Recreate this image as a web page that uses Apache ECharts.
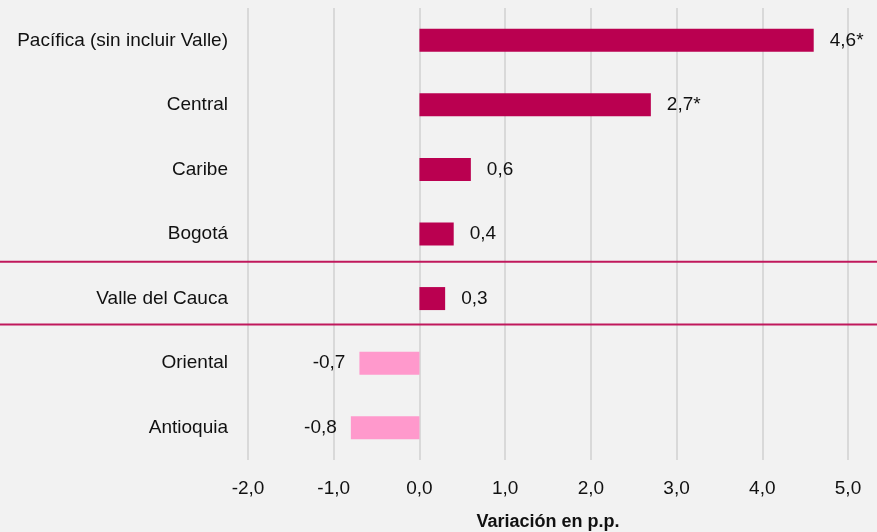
<!DOCTYPE html>
<html>
<head>
<meta charset="utf-8">
<script src="https://cdn.jsdelivr.net/npm/echarts@6/dist/echarts.min.js"></script>
<style>
  html, body { margin: 0; padding: 0; background: #F2F2F2; }
  #chart { width: 877px; height: 532px; }
</style>
</head>
<body>
<div id="chart"></div>
<script>
// Regions and their change, in percentage points
const regions = ['Pacífica (sin incluir Valle)', 'Central', 'Caribe', 'Bogotá', 'Valle del Cauca', 'Oriental', 'Antioquia'];
const changes = [4.6, 2.7, 0.6, 0.4, 0.3, -0.7, -0.8];
const significant = [true, true, false, false, false, false, false];
const xTicks = [-2, -1, 0, 1, 2, 3, 4, 5];
const axisTitle = 'Variación en p.p.';
const highlighted = 'Valle del Cauca';

const POS = '#BA0050';
const NEG = '#FF99CC';
const FONT = 'Liberation Sans';

const fmt = v => v.toFixed(1).replace('.', ',');

const chart = echarts.init(document.getElementById('chart'), null, { renderer: 'canvas' });

const option = {
  backgroundColor: '#F2F2F2',
  animation: false,
  textStyle: { fontFamily: FONT },
  grid: { left: 248, right: 29, top: 8, bottom: 72, containLabel: false, outerBoundsMode: 'none' },
  xAxis: {
    type: 'value',
    min: xTicks[0],
    max: xTicks[xTicks.length - 1],
    interval: 1,
    axisLine: { show: false },
    axisTick: { show: false },
    splitLine: { show: true, lineStyle: { color: '#D9D9D9', width: 2 } },
    axisLabel: { formatter: v => fmt(v), fontSize: 19, color: '#111', margin: 19, fontFamily: FONT },
    name: axisTitle,
    nameLocation: 'middle',
    nameGap: 53,
    nameTextStyle: { fontSize: 18, fontWeight: 'bold', color: '#111', fontFamily: FONT }
  },
  yAxis: {
    type: 'category',
    data: regions,
    inverse: true,
    axisLine: { show: false },
    axisTick: { show: false },
    splitLine: { show: false },
    axisLabel: { fontSize: 19, color: '#111', margin: 20, fontFamily: FONT }
  },
  series: [{
    type: 'bar',
    barWidth: 23,
    data: changes.map((v, i) => ({
      value: v,
      itemStyle: { color: v >= 0 ? POS : NEG },
      label: {
        show: true,
        position: v >= 0 ? 'right' : 'left',
        distance: v >= 0 ? 16 : 14,
        formatter: fmt(v) + (significant[i] ? '*' : ''),
        fontSize: 19,
        color: '#111',
        fontFamily: FONT
      }
    }))
  }]
};

chart.setOption(option);

// Frame lines around the highlighted region, spanning the full width
function drawFrame() {
  const idx = regions.indexOf(highlighted);
  const yPrev = chart.convertToPixel({ yAxisIndex: 0 }, idx - 1);
  const yMid = chart.convertToPixel({ yAxisIndex: 0 }, idx);
  const yNext = chart.convertToPixel({ yAxisIndex: 0 }, idx + 1);
  const top = yPrev + 0.43 * (yMid - yPrev);
  const bottom = yMid + 0.40 * (yNext - yMid);
  const w = chart.getWidth();
  const style = { stroke: '#C0185C', lineWidth: 2 };
  chart.setOption({
    graphic: [
      { type: 'line', shape: { x1: 0, y1: top, x2: w, y2: top }, style, z: 10 },
      { type: 'line', shape: { x1: 0, y1: bottom, x2: w, y2: bottom }, style, z: 10 }
    ]
  });
}
drawFrame();
</script>
</body>
</html>
